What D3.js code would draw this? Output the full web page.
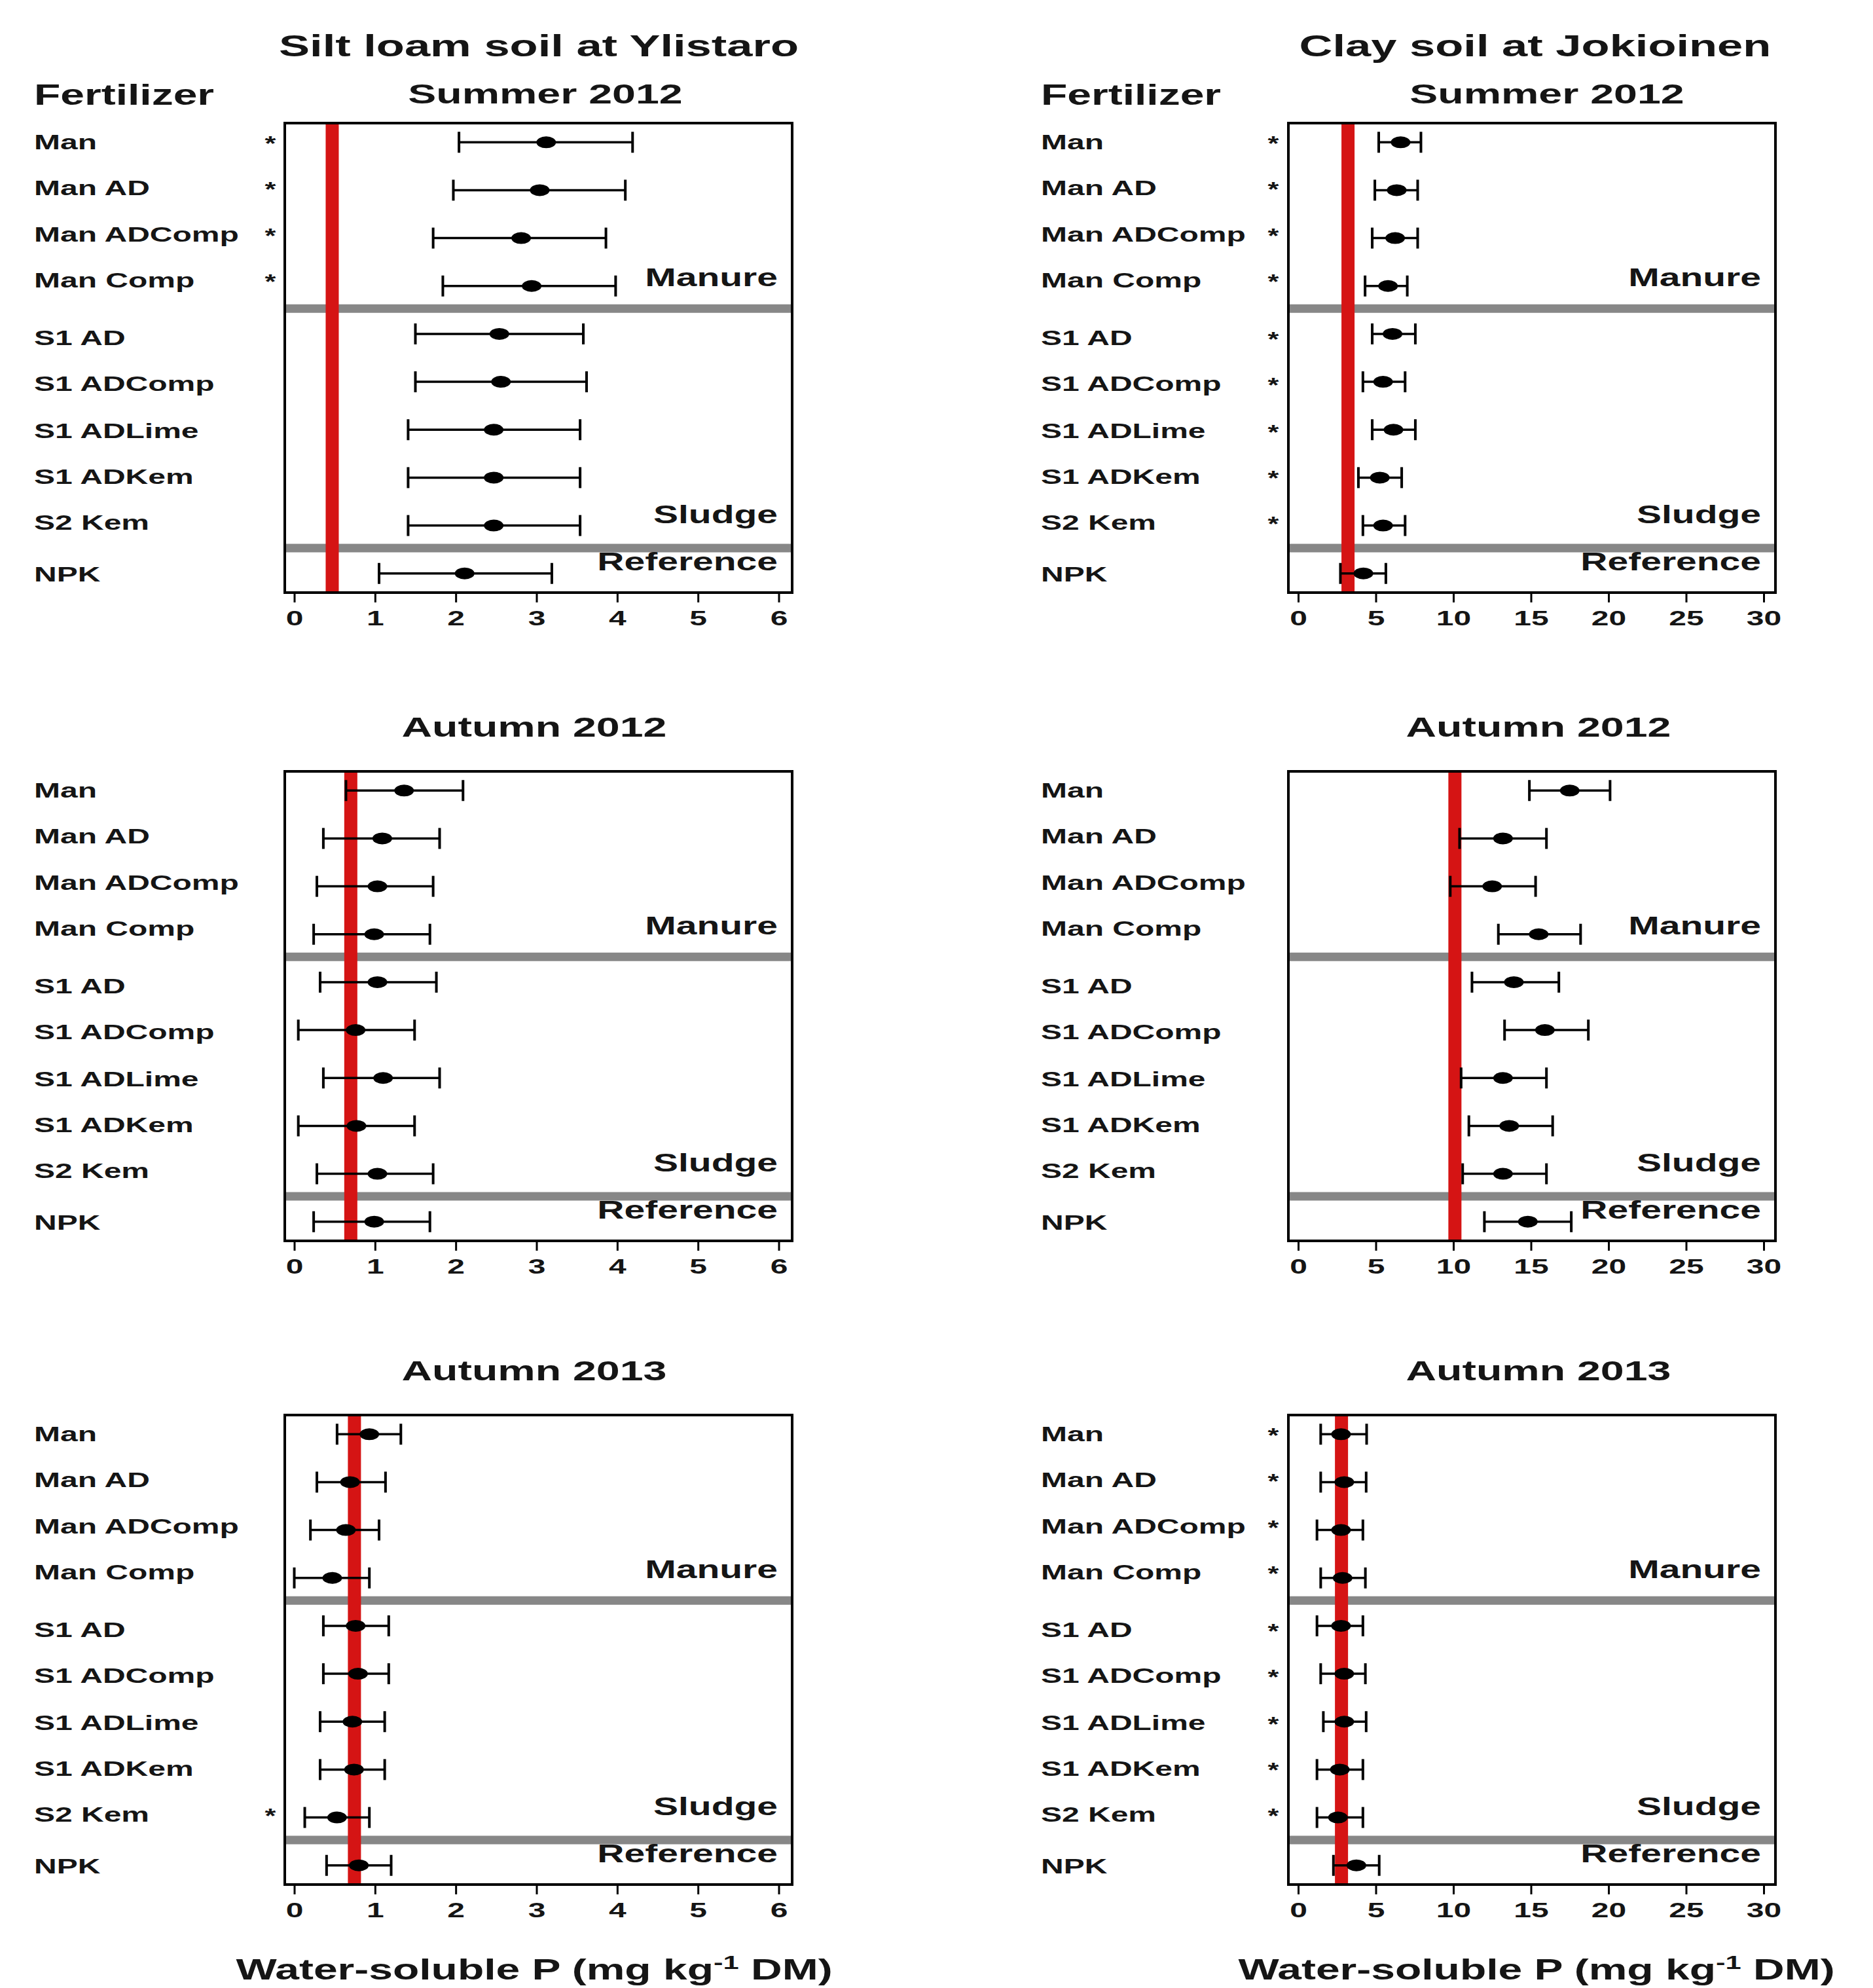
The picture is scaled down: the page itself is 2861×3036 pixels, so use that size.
<!DOCTYPE html>
<html>
<head>
<meta charset="utf-8">
<script src="https://cdn.jsdelivr.net/npm/d3@7"></script>
<style>
  html, body { margin: 0; padding: 0; background: #fff; }
  svg { display: block; }
  text { font-family: "Liberation Sans", Arial, sans-serif; font-weight: bold; fill: #151515; }
</style>
</head>
<body>
<svg id="chart" width="2861" height="3036"></svg>
<script>
// ---------------- DATA ----------------
const categories = ["Man", "Man AD", "Man ADComp", "Man Comp", "S1 AD", "S1 ADComp", "S1 ADLime", "S1 ADKem", "S2 Kem", "NPK"];
const groupLabels = ["Manure", "Sludge", "Reference"];
const sites = ["Silt loam soil at Ylistaro", "Clay soil at Jokioinen"];
const seasons = ["Summer 2012", "Autumn 2012", "Autumn 2013"];
const leftTicks = [0, 1, 2, 3, 4, 5, 6];
const rightTicks = [0, 5, 10, 15, 20, 25, 30];
const axisTitle = "Water-soluble P (mg kg";

// Ylistaro (silt loam)
const ylS12Mean = [3.12, 3.04, 2.81, 2.94, 2.54, 2.56, 2.47, 2.47, 2.47, 2.11];
const ylS12Lo   = [2.04, 1.97, 1.72, 1.84, 1.50, 1.50, 1.41, 1.41, 1.41, 1.05];
const ylS12Hi   = [4.19, 4.10, 3.86, 3.98, 3.58, 3.62, 3.54, 3.54, 3.54, 3.19];
const ylS12Ref  = 0.47;
const ylS12Star = [1, 1, 1, 1, 0, 0, 0, 0, 0, 0];

const ylA12Mean = [1.36, 1.09, 1.03, 0.99, 1.03, 0.76, 1.10, 0.77, 1.03, 0.99];
const ylA12Lo   = [0.64, 0.36, 0.28, 0.24, 0.32, 0.05, 0.36, 0.05, 0.28, 0.24];
const ylA12Hi   = [2.09, 1.80, 1.72, 1.68, 1.76, 1.49, 1.80, 1.49, 1.72, 1.68];
const ylA12Ref  = 0.70;
const ylA12Star = [0, 0, 0, 0, 0, 0, 0, 0, 0, 0];

const ylA13Mean = [0.93, 0.69, 0.64, 0.47, 0.76, 0.79, 0.72, 0.74, 0.53, 0.80];
const ylA13Lo   = [0.53, 0.28, 0.20, 0.00, 0.36, 0.36, 0.32, 0.32, 0.13, 0.40];
const ylA13Hi   = [1.32, 1.13, 1.05, 0.93, 1.17, 1.17, 1.12, 1.12, 0.93, 1.20];
const ylA13Ref  = 0.745;
const ylA13Star = [0, 0, 0, 0, 0, 0, 0, 0, 1, 0];

// Jokioinen (clay)
const joS12Mean = [6.60, 6.35, 6.25, 5.79, 6.08, 5.47, 6.14, 5.26, 5.47, 4.20];
const joS12Lo   = [5.19, 4.94, 4.77, 4.31, 4.77, 4.17, 4.77, 3.88, 4.17, 2.72];
const joS12Hi   = [7.91, 7.70, 7.70, 7.03, 7.55, 6.89, 7.55, 6.67, 6.89, 5.65];
const joS12Ref  = 3.21;
const joS12Star = [1, 1, 1, 1, 1, 1, 1, 1, 1, 0];

const joA12Mean = [17.5, 13.2, 12.5, 15.5, 13.9, 15.9, 13.2, 13.6, 13.2, 14.8];
const joA12Lo   = [14.9, 10.4, 9.8, 12.9, 11.2, 13.3, 10.5, 11.0, 10.6, 12.0];
const joA12Hi   = [20.1, 16.0, 15.3, 18.2, 16.8, 18.7, 16.0, 16.4, 16.0, 17.6];
const joA12Ref  = 10.1;
const joA12Star = [0, 0, 0, 0, 0, 0, 0, 0, 0, 0];

const joA13Mean = [2.76, 2.97, 2.76, 2.86, 2.76, 2.97, 2.97, 2.68, 2.56, 3.75];
const joA13Lo   = [1.45, 1.45, 1.21, 1.45, 1.21, 1.45, 1.62, 1.21, 1.21, 2.27];
const joA13Hi   = [4.41, 4.38, 4.17, 4.33, 4.17, 4.33, 4.38, 4.17, 4.17, 5.22];
const joA13Ref  = 2.79;
const joA13Star = [1, 1, 1, 1, 1, 1, 1, 1, 1, 0];

// ---------------- LAYOUT ----------------
const SX = 1.5;                 // horizontal stretch of all text (as in reference)
const boxTops = [188, 1178, 2161];
const boxH = 717;
const labelOffsets = [28, 98, 169, 239, 327, 397, 469, 539, 609, 688];
const sepPositions = [4.47, 9.47];
const groupLabelOffsets = [249, 611, 683];

const cols = [
  { boxL: 435, boxR: 1210, r0: 449.5, r1: 1189.5, domain: [0, 6], ticks: leftTicks,
    labelX: 52, starX: 413, titleX: 823, subX: [833, 816, 816], axisTitleX: 816,
    panels: [
      { mean: ylS12Mean, lo: ylS12Lo, hi: ylS12Hi, ref: ylS12Ref, star: ylS12Star },
      { mean: ylA12Mean, lo: ylA12Lo, hi: ylA12Hi, ref: ylA12Ref, star: ylA12Star },
      { mean: ylA13Mean, lo: ylA13Lo, hi: ylA13Hi, ref: ylA13Ref, star: ylA13Star }
    ] },
  { boxL: 1968, boxR: 2712, r0: 1983, r1: 2694, domain: [0, 30], ticks: rightTicks,
    labelX: 1590, starX: 1945, titleX: 2345, subX: [2363, 2350, 2350], axisTitleX: 2347,
    panels: [
      { mean: joS12Mean, lo: joS12Lo, hi: joS12Hi, ref: joS12Ref, star: joS12Star },
      { mean: joA12Mean, lo: joA12Lo, hi: joA12Hi, ref: joA12Ref, star: joA12Star },
      { mean: joA13Mean, lo: joA13Lo, hi: joA13Hi, ref: joA13Ref, star: joA13Star }
    ] }
];

const svg = d3.select("#chart");
svg.append("rect").attr("width", 2861).attr("height", 3036).attr("fill", "#fff");

function txt(g, x, y, s, size, anchor, sx) {
  return g.append("text")
    .attr("transform", `translate(${x},${y}) scale(${sx || SX},1)`)
    .attr("text-anchor", anchor || "start")
    .attr("font-size", size)
    .text(s);
}

cols.forEach((c, ci) => {
  const g = svg.append("g");
  // top titles
  txt(g, c.titleX, 86, sites[ci], 47, "middle");
  txt(g, c.labelX, 160, "Fertilizer", 44, "start");

  const x = d3.scaleLinear().domain(c.domain).range([c.r0, c.r1]);

  c.panels.forEach((p, ri) => {
    const top = boxTops[ri];
    const bottom = top + boxH;
    const y = d3.scaleLinear().domain([0.6, 10.4]).range([top, bottom]);
    const pg = g.append("g");

    // season title
    txt(pg, c.subX[ri], ri === 0 ? 158 : top - 53, seasons[ri], 43, "middle");

    // row labels + asterisks
    categories.forEach((cat, i) => {
      const ly = top + labelOffsets[i];
      txt(pg, c.labelX, ly + 11.5, cat, 32, "start");
      if (p.star[i]) {
        txt(pg, c.starX, ly + 14, "*", 32, "middle", 1.35);
      }
    });

    // group separators
    pg.selectAll(".sep").data(sepPositions).enter().append("line")
      .attr("x1", c.boxL).attr("x2", c.boxR)
      .attr("y1", d => y(d)).attr("y2", d => y(d))
      .attr("stroke", "#878787").attr("stroke-width", 13);

    // group labels
    groupLabels.forEach((gl, k) => {
      txt(pg, c.boxR - 22, top + groupLabelOffsets[k], gl, 38, "end");
    });

    // red reference line
    pg.append("line")
      .attr("x1", x(p.ref)).attr("x2", x(p.ref))
      .attr("y1", top).attr("y2", bottom)
      .attr("stroke", "#d51414").attr("stroke-width", 20);

    const rows = categories.map((cat, i) => ({ i, mean: p.mean[i], lo: p.lo[i], hi: p.hi[i] }));

    // error bars
    const eb = pg.selectAll(".eb").data(rows).enter().append("g");
    eb.append("line")
      .attr("x1", d => x(d.lo)).attr("x2", d => x(d.hi))
      .attr("y1", d => y(d.i + 1)).attr("y2", d => y(d.i + 1))
      .attr("stroke", "#000").attr("stroke-width", 3.5);
    eb.append("line")
      .attr("x1", d => x(d.lo)).attr("x2", d => x(d.lo))
      .attr("y1", d => y(d.i + 1) - 16).attr("y2", d => y(d.i + 1) + 16)
      .attr("stroke", "#000").attr("stroke-width", 4);
    eb.append("line")
      .attr("x1", d => x(d.hi)).attr("x2", d => x(d.hi))
      .attr("y1", d => y(d.i + 1) - 16).attr("y2", d => y(d.i + 1) + 16)
      .attr("stroke", "#000").attr("stroke-width", 4);
    eb.append("ellipse")
      .attr("cx", d => x(d.mean)).attr("cy", d => y(d.i + 1))
      .attr("rx", 15).attr("ry", 9).attr("fill", "#000");

    // box
    pg.append("rect")
      .attr("x", c.boxL).attr("y", top)
      .attr("width", c.boxR - c.boxL).attr("height", boxH)
      .attr("fill", "none").attr("stroke", "#000").attr("stroke-width", 4);

    // x axis
    const ax = pg.append("g").attr("transform", `translate(0,${bottom})`)
      .call(d3.axisBottom(x).tickValues(c.ticks).tickSize(15).tickFormat(d3.format("d")));
    ax.select(".domain").remove();
    ax.selectAll(".tick line").attr("stroke", "#000").attr("stroke-width", 3);
    ax.selectAll(".tick text")
      .attr("y", 50).attr("dy", null)
      .attr("transform", `scale(${SX},1)`)
      .attr("font-size", 32)
      .attr("font-family", "Liberation Sans, Arial, sans-serif")
      .attr("font-weight", "bold")
      .attr("fill", "#222");
  });

  // x-axis title
  const t = g.append("text")
    .attr("transform", `translate(${c.axisTitleX},3023) scale(${SX},1)`)
    .attr("text-anchor", "middle")
    .attr("font-size", 44);
  t.append("tspan").text(axisTitle);
  t.append("tspan").attr("font-size", 29).attr("dy", -16).text("-1");
  t.append("tspan").attr("dy", 16).text(" DM)");
});
</script>
</body>
</html>
